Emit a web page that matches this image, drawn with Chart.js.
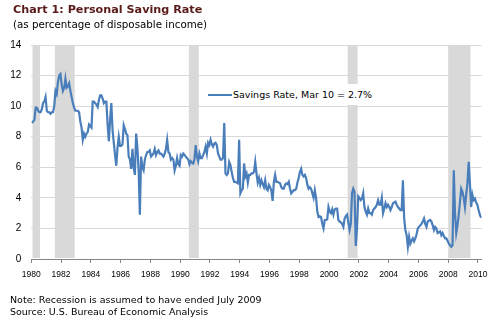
<!DOCTYPE html>
<html>
<head>
<meta charset="utf-8">
<script src="https://cdn.jsdelivr.net/npm/chart.js@4.4.0/dist/chart.umd.min.js"></script>
<style>
  body { margin: 0; background: #fff; }
  #wrap { position: relative; width: 496px; height: 322px; overflow: hidden; font-family: "DejaVu Sans", sans-serif; color: #000; }
  #graphCanvas { position: absolute; left: 0; top: 0; }
  .txt { position: absolute; white-space: pre; }
  #title { left: 13px; top: 4px; font-size: 11.2px; line-height: 11.5px; font-weight: bold; color: #5a1a1a; }
  #subtitle { left: 13px; top: 18.5px; font-size: 10.3px; line-height: 10px; }
  #note { left: 10px; top: 294.5px; font-size: 9.5px; line-height: 9.5px; }
  #source { left: 10px; top: 306.5px; font-size: 9.5px; line-height: 9.5px; }
  #legend { position: absolute; left: 200px; top: 84px; width: 180px; height: 21px; background: #fff; }
  #legend .swatch { position: absolute; left: 8px; top: 10px; width: 24px; height: 2px; background: #4a7ebb; }
  #legend .label { position: absolute; left: 33px; top: 0; font-size: 9.5px; line-height: 21px; white-space: pre; }
</style>
</head>
<body>
<div id="wrap">
  <canvas id="graphCanvas" width="496" height="322"></canvas>
  <div class="txt" id="title">Chart 1: Personal Saving Rate</div>
  <div class="txt" id="subtitle">(as percentage of disposable income)</div>
  <div id="legend"><div class="swatch"></div><div class="label" id="legendLabel"></div></div>
  <div class="txt" id="note">Note: Recession is assumed to have ended July 2009</div>
  <div class="txt" id="source">Source: U.S. Bureau of Economic Analysis</div>
</div>
<script>
// monthly personal saving rate, % of disposable income, Jan 1980 onwards
const startYear = 1980;
const rate1980s = [
  8.9, 9.0, 9.1, 9.9, 9.9, 9.7, 9.6, 9.6, 9.8, 10.2, 10.3, 10.6,
  9.7, 9.6, 9.6, 9.5, 9.6, 9.6, 10.0, 11.0, 10.8, 11.6, 12.0, 12.1,
  11.4, 11.0, 11.2, 11.8, 11.2, 11.3, 11.5, 11.0, 10.6, 10.2, 9.9, 9.7,
  9.7, 9.7, 9.6, 9.0, 8.6, 7.8, 8.2, 8.0, 8.2, 8.3, 8.8, 8.7,
  8.6, 10.3, 10.3, 10.2, 10.1, 9.95, 10.4, 10.7, 10.7, 10.5, 10.2, 10.3,
  10.3, 8.8, 7.7, 9.1, 10.2, 8.4, 7.6, 6.8, 6.1, 7.3, 8.0, 7.4,
  7.4, 7.5, 8.75, 8.5, 8.2, 8.1, 6.7, 6.5, 5.9, 7.2, 6.0, 5.5,
  8.2, 7.3, 5.8, 2.9, 6.7, 6.0, 5.8, 6.5, 6.8, 7.0, 7.0, 7.1,
  6.7, 6.8, 6.9, 7.2, 6.8, 7.0, 7.1, 6.9, 6.9, 6.8, 6.7, 6.9,
  7.2, 7.8, 7.0, 6.9, 6.5, 6.6, 6.5, 5.8, 6.1, 6.6, 6.2, 6.1
];
const rate1990s = [
  6.8, 6.7, 6.9, 6.8, 6.7, 6.6, 6.5, 6.2, 6.4, 6.3, 6.25, 6.5,
  7.45, 6.7, 6.4, 6.9, 6.6, 6.6, 6.8, 7.0, 7.35, 6.9, 7.6, 7.45,
  7.8, 7.5, 7.35, 7.55, 7.6, 7.45, 6.9, 6.7, 6.5, 6.5, 6.6, 8.9,
  5.6, 5.5, 5.6, 6.35, 6.15, 5.7, 5.3, 5.05, 5.05, 5.0, 4.95, 7.8,
  4.3, 4.5, 4.6, 6.25, 5.4, 5.6, 5.0, 5.5, 5.5, 5.6, 5.6, 5.7,
  6.35, 5.6, 5.0, 5.3, 4.85, 5.15, 4.9, 4.7, 5.15, 4.6, 4.5, 4.85,
  4.7, 4.45, 3.8, 5.05, 5.5, 5.05, 5.05, 5.0, 4.95, 4.7, 4.6, 4.6,
  4.85, 4.95, 4.9, 5.05, 4.6, 4.3, 4.4, 4.5, 4.5, 4.6, 5.0, 5.3,
  5.7, 5.9, 5.5, 5.4, 5.5, 5.3, 4.85, 4.6, 4.7, 4.6, 4.3, 4.0,
  4.5, 4.0, 3.1, 2.75, 2.8, 2.75, 2.3, 2.0, 2.55, 2.55, 2.6, 3.4
];
const rate2000s = [
  3.1, 3.0, 3.25, 2.9, 3.25, 3.3, 3.3, 2.55, 2.45, 2.4, 2.3, 2.1,
  2.65, 2.8, 2.9, 2.4, 1.9, 2.3, 4.3, 4.6, 4.4, 0.85, 2.0, 4.1,
  4.0, 3.85, 3.95, 4.3, 3.4, 3.1, 2.9, 3.3, 3.0, 3.0, 2.9, 3.2,
  3.3, 3.4, 3.55, 3.85, 3.55, 3.55, 4.0, 3.0, 3.3, 3.65, 3.4, 3.55,
  3.4, 3.2, 3.4, 3.65, 3.7, 3.75, 3.55, 3.4, 3.3, 3.2, 3.2, 5.15,
  2.65, 1.9, 1.55, 0.8, 1.45, 1.0, 1.2, 1.35, 1.15, 1.35, 1.6, 2.0,
  2.1, 2.2, 2.3, 2.45, 2.65, 2.3, 2.1, 2.45, 2.5, 2.55, 2.45, 2.2,
  1.9, 2.1, 2.0, 1.7, 1.75, 1.8, 1.55, 1.7, 1.5, 1.35, 1.35, 1.2,
  1.0, 0.9, 0.8, 0.9, 5.8, 3.0, 1.7, 2.2, 2.9, 3.75, 4.6, 4.4,
  4.0, 3.4, 4.2, 4.95, 6.35, 4.95, 3.4, 4.2, 3.85, 3.95, 3.7, 3.55
];
const rate2010s = [3.2, 2.9, 2.7];

// recessions as [start, end] in fractional years
const recessionStart = [1980 + 1/12, 1981 + 7/12, 1990 + 7/12, 2001 + 3/12, 2008];
const recessionEnd   = [1980 + 7/12, 1982 + 11/12, 1991 + 3/12, 2001 + 11/12, 2009 + 6/12];

const yearTicks = [1980, 1982, 1984, 1986, 1988, 1990, 1992, 1994, 1996, 1998, 2000, 2002, 2004, 2006, 2008, 2010];
const rateTicks = [0, 2, 4, 6, 8, 10, 12, 14];
const seriesName = "Savings Rate, Mar 10 = 2.7%";

const allRates = rate1980s.concat(rate1990s, rate2000s, rate2010s);
const points = allRates.map((v, i) => ({ x: startYear + (i + 0.5) / 12, y: v }));
const xMax = startYear + allRates.length / 12;

document.getElementById("legendLabel").textContent = seriesName;

const recessionBars = {
  id: "recessionBars",
  beforeDatasetsDraw(chart) {
    const ctx = chart.ctx;
    const x = chart.scales.x;
    const area = chart.chartArea;
    ctx.save();
    ctx.fillStyle = "#d9d9d9";
    for (let i = 0; i < recessionStart.length; i++) {
      const x0 = x.getPixelForValue(recessionStart[i]);
      const x1 = x.getPixelForValue(recessionEnd[i]);
      ctx.fillRect(x0, area.top, x1 - x0, area.bottom - area.top - 1);
    }
    ctx.restore();
  }
};

let chart = null;

function startChart() {
  const ctx = document.getElementById("graphCanvas").getContext("2d");
  chart = new Chart(ctx, {
    type: "line",
    data: {
      datasets: [{
        label: seriesName,
        data: points,
        borderColor: "#4a7ebb",
        borderWidth: 2.2,
        pointRadius: 0,
        tension: 0,
        fill: false
      }]
    },
    options: {
      responsive: false,
      animation: false,
      layout: { padding: { top: 45, right: 14.3, left: 0, bottom: 0 } },
      plugins: { legend: { display: false }, tooltip: { enabled: false } },
      scales: {
        x: {
          type: "linear",
          min: startYear,
          max: xMax,
          afterBuildTicks: s => { s.ticks = yearTicks.map(v => ({ value: v })); },
          afterFit: s => { s.height = 63; },
          grid: { drawOnChartArea: false, drawTicks: true, tickLength: 4, color: "#868686" },
          border: { color: "#868686", width: 1 },
          ticks: {
            font: { family: "Liberation Sans", size: 8.5 },
            color: "#000",
            padding: 7,
            maxRotation: 0,
            autoSkip: false,
            callback: v => String(v)
          }
        },
        y: {
          min: 0,
          max: 14,
          afterBuildTicks: s => { s.ticks = rateTicks.map(v => ({ value: v })); },
          afterFit: s => { s.width = 31.3; },
          grid: { color: "#d9d9d9", drawTicks: false },
          border: { display: false },
          ticks: {
            font: { family: "Liberation Sans", size: 10 },
            color: "#000",
            padding: 10
          }
        }
      }
    },
    plugins: [recessionBars]
  });
}

startChart();
</script>
</body>
</html>
